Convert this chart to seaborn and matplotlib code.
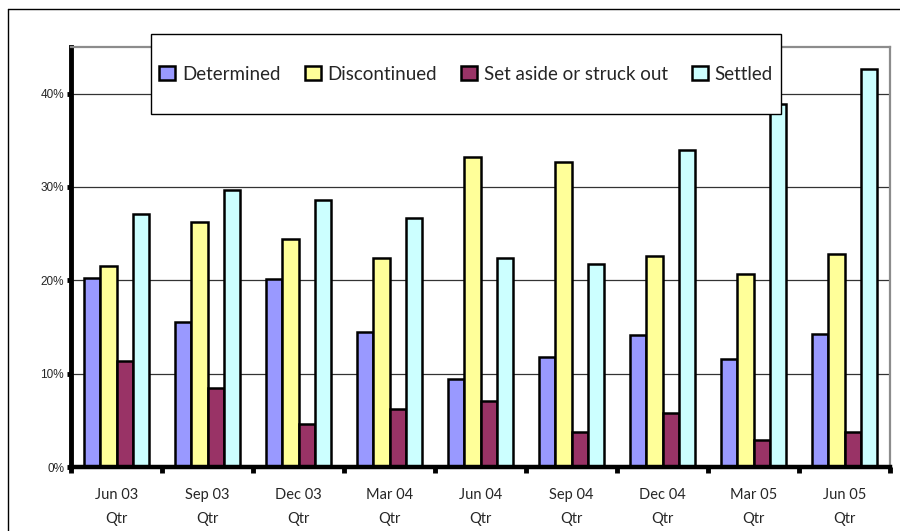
import matplotlib
matplotlib.use("Agg")
import matplotlib.pyplot as plt
from matplotlib.patches import Patch, Rectangle
from matplotlib.lines import Line2D
from matplotlib.ticker import FixedLocator, FuncFormatter
import seaborn as sns
import pandas as pd

quarters = ["Jun 03\nQtr", "Sep 03\nQtr", "Dec 03\nQtr", "Mar 04\nQtr", "Jun 04\nQtr",
            "Sep 04\nQtr", "Dec 04\nQtr", "Mar 05\nQtr", "Jun 05\nQtr"]
series_names = ["Determined", "Discontinued", "Set aside or struck out", "Settled"]
determined = [20.3, 15.5, 20.1, 14.5, 9.4, 11.8, 14.1, 11.6, 14.2]
discontinued = [21.5, 26.2, 24.4, 22.4, 33.2, 32.7, 22.6, 20.7, 22.8]
set_aside = [11.4, 8.5, 4.6, 6.2, 7.1, 3.8, 5.8, 2.9, 3.8]
settled = [27.1, 29.7, 28.6, 26.7, 22.4, 21.7, 34.0, 38.9, 42.6]
colors = ["#9999FF", "#FFFF99", "#993366", "#CCFFFF"]
y_ticks = [0, 10, 20, 30, 40]

rows = []
for name, vals in zip(series_names, [determined, discontinued, set_aside, settled]):
    for q, v in zip(quarters, vals):
        rows.append({"quarter": q, "series": name, "value": v})
df = pd.DataFrame(rows)

sns.set_style("white")
plt.rcParams["font.family"] = ["Lato", "DejaVu Sans"]

W, H = 900, 531
fig = plt.figure(figsize=(9, 5.31), dpi=100)
ax = fig.add_axes([71 / W, (H - 467) / H, (890 - 71) / W, (467 - 47) / H])

sns.barplot(data=df, x="quarter", y="value", hue="series", hue_order=series_names,
            order=quarters, palette=colors, width=0.72, gap=0, saturation=1,
            edgecolor="black", linewidth=1.8, legend=False, ax=ax, errorbar=None)

ax.set_xlim(-0.5, len(quarters) - 0.5)
ax.set_ylim(0, 45)
ax.set_xlabel("")
ax.set_ylabel("")

# grid
ax.set_axisbelow(True)
ax.yaxis.set_major_locator(FixedLocator(y_ticks))
ax.yaxis.grid(True, color="#333333", linewidth=0.9)
ax.xaxis.grid(False)

# spines
ax.spines["left"].set_color("black")
ax.spines["left"].set_linewidth(3.5)
ax.spines["bottom"].set_color("black")
ax.spines["bottom"].set_linewidth(3.2)
ax.spines["top"].set_color("#8c8c8c")
ax.spines["top"].set_linewidth(1.6)
ax.spines["right"].set_color("#8c8c8c")
ax.spines["right"].set_linewidth(1.6)
for s in ax.spines.values():
    s.set_visible(True)

# y ticks
ax.yaxis.set_major_formatter(FuncFormatter(lambda v, p: f"{v:.0f}%"))
ax.tick_params(axis="y", which="major", left=True, length=3, width=3.5, color="black",
               pad=2, labelsize=8.5, direction="out")
for lab in ax.get_yticklabels():
    lab.set_family(["Liberation Sans", "DejaVu Sans"])

# x ticks
ax.set_xticks(range(len(quarters)))
ax.set_xticklabels(quarters, fontsize=10.5, linespacing=1.9)
ax.set_xticks([i - 0.5 for i in range(len(quarters) + 1)], minor=True)
ax.tick_params(axis="x", which="major", bottom=True, length=0, pad=15)
ax.tick_params(axis="x", which="minor", bottom=True, length=4, width=3.5, color="black",
               direction="out")

# outer frame (top and left edges visible)
fig.add_artist(Line2D([8 / W, 8 / W], [0, (H - 9) / H], color="black", linewidth=1.0,
                      transform=fig.transFigure))
fig.add_artist(Line2D([8 / W, 1.0], [(H - 9) / H, (H - 9) / H], color="black", linewidth=1.0,
                      transform=fig.transFigure))

# legend box
lx0, lx1, ly0, ly1 = 151, 781, 34, 114
box = Rectangle((lx0 / W, (H - ly1) / H), (lx1 - lx0) / W, (ly1 - ly0) / H,
                transform=fig.transFigure, facecolor="white", edgecolor="black",
                linewidth=1.0, zorder=4)
fig.add_artist(box)
handles = [Patch(facecolor=c, edgecolor="black", linewidth=1.8) for c in colors]
fig.legend(handles, series_names, loc="center",
           bbox_to_anchor=((lx0 + lx1) / 2 / W, (H - (ly0 + ly1) / 2) / H),
           ncol=4, frameon=False, fontsize=13.5, handlelength=0.85, handleheight=0.85,
           handletextpad=0.35, columnspacing=1.3, borderpad=0.2)

fig.savefig("out.png", dpi=100)
